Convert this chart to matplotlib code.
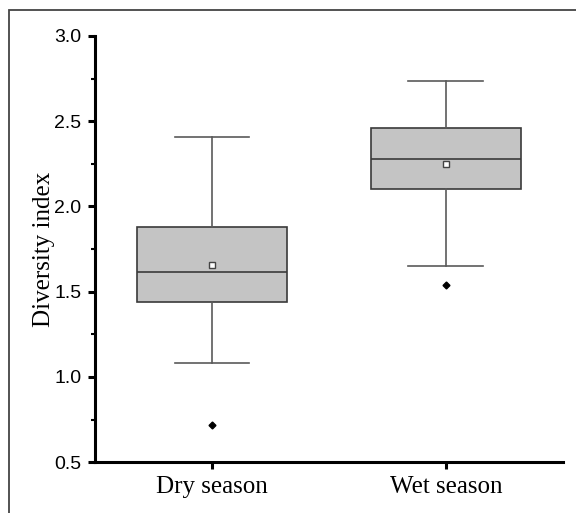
import matplotlib
matplotlib.use("Agg")
import matplotlib.pyplot as plt
from matplotlib.patches import Rectangle

# summary values
seasons = ["Dry season", "Wet season"]
whislo = [1.08, 1.65]
q1 = [1.44, 2.105]
med = [1.615, 2.28]
q3 = [1.88, 2.46]
whishi = [2.41, 2.735]
means = [1.655, 2.25]
fliers = [[0.72], [1.54]]

stats = []
for i, name in enumerate(seasons):
    stats.append(dict(label=name, whislo=whislo[i], q1=q1[i], med=med[i],
                      q3=q3[i], whishi=whishi[i], mean=means[i], fliers=fliers[i]))

fig = plt.figure(figsize=(5.76, 5.13), dpi=100)
ax = fig.add_axes([0.165, 0.099, 0.812, 0.831])

ax.bxp(stats, positions=[1, 2], widths=0.644, patch_artist=True, showmeans=True,
       boxprops=dict(facecolor="#c4c4c4", edgecolor="#3a3a3a", linewidth=1.2),
       medianprops=dict(color="#3a3a3a", linewidth=1.2),
       whiskerprops=dict(color="#5a5a5a", linewidth=1.2),
       capprops=dict(color="#5a5a5a", linewidth=1.2),
       capwidths=0.32,
       meanprops=dict(marker="s", markersize=4, markerfacecolor="white",
                      markeredgecolor="#444444", markeredgewidth=1.0),
       flierprops=dict(marker="D", markersize=3.5, markerfacecolor="black",
                       markeredgecolor="black"))

ax.set_xlim(0.5, 2.5)
ax.set_ylim(0.5, 3.0)
ax.set_yticks([0.5, 1.0, 1.5, 2.0, 2.5, 3.0])
ax.set_yticks([0.75, 1.25, 1.75, 2.25, 2.75], minor=True)
ax.set_yticklabels(["0.5", "1.0", "1.5", "2.0", "2.5", "3.0"],
                   fontfamily="Liberation Sans", fontsize=14)
ax.set_xticks([1, 2])
ax.set_xticklabels(seasons, fontfamily="Liberation Serif", fontsize=18)

for side in ["top", "right"]:
    ax.spines[side].set_visible(False)
for side in ["left", "bottom"]:
    ax.spines[side].set_linewidth(2.2)
    ax.spines[side].set_color("black")

ax.tick_params(axis="both", which="major", direction="out", length=5, width=2.2)
ax.tick_params(axis="y", which="major", pad=5)
ax.tick_params(axis="x", which="major", pad=5)
ax.tick_params(axis="y", which="minor", direction="out", length=3, width=1.5)
ax.set_ylabel("Diversity index", fontfamily="Liberation Serif", fontsize=18, labelpad=-1)

# outer frame around the figure
fig.patches.append(Rectangle((9 / 576, -0.1), 1.2, 1 - 10 / 513 + 0.1,
                             transform=fig.transFigure, fill=False,
                             edgecolor="#444444", linewidth=1.3))

fig.savefig("out.png", dpi=100)
